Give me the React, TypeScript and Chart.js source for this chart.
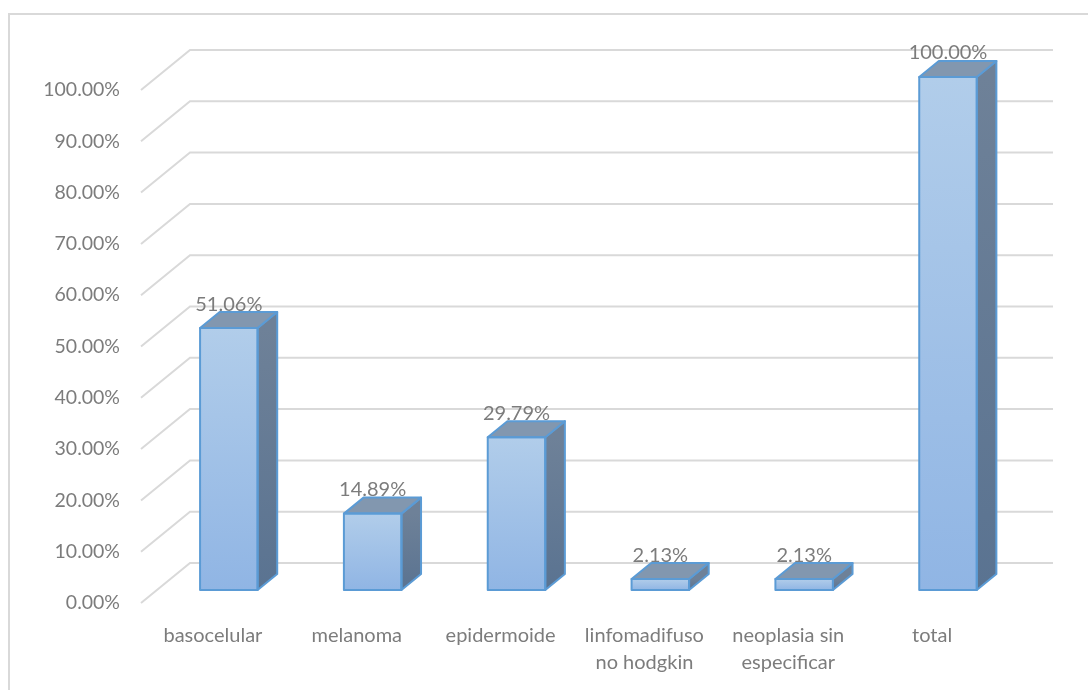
import React, { useEffect, useRef } from "react";
import { Chart, registerables } from "chart.js";

Chart.register(...registerables);

const categories: (string | string[])[] = [
  "basocelular",
  "melanoma",
  "epidermoide",
  ["linfomadifuso", "no hodgkin"],
  ["neoplasia sin", "especificar"],
  "total",
];
const percentValues = [51.06, 14.89, 29.79, 2.13, 2.13, 100];
const yTicks = [0, 10, 20, 30, 40, 50, 60, 70, 80, 90, 100];

const FONT = "Lato, 'Open Sans', 'Liberation Sans', sans-serif";
const TEXT = "#7c7c7c";
const GRID = "#d9d9d9";
const EDGE = "#5b9bd5";

// perspective of the back wall and of the bar boxes
const WALL_DX = 49;
const WALL_DY = -40;
const FRONT_T = 0.325;
const BACK_T = 0.725;

const fmt = (v: number) => v.toFixed(2) + "%";

const threeD = {
  id: "threeD",
  beforeDatasetsDraw(chart: any) {
    const { ctx, chartArea, scales } = chart;
    const y = scales.y;
    ctx.save();
    ctx.strokeStyle = GRID;
    ctx.lineWidth = 2;
    for (const t of yTicks) {
      const py = y.getPixelForValue(t);
      ctx.beginPath();
      ctx.moveTo(chartArea.left, py);
      ctx.lineTo(chartArea.left + WALL_DX, py + WALL_DY);
      ctx.lineTo(chartArea.right + WALL_DX, py + WALL_DY);
      ctx.stroke();
    }
    ctx.restore();
    // bars sit part-way into the depth of the floor
    ctx.save();
    ctx.translate(WALL_DX * FRONT_T, WALL_DY * FRONT_T);
  },
  afterDatasetsDraw(chart: any) {
    const { ctx } = chart;
    const meta = chart.getDatasetMeta(0);
    const dx = WALL_DX * (BACK_T - FRONT_T);
    const dy = WALL_DY * (BACK_T - FRONT_T);
    ctx.lineWidth = 2;
    ctx.lineJoin = "round";
    ctx.strokeStyle = EDGE;
    meta.data.forEach((bar: any) => {
      const { x, y, base, width } = bar.getProps(["x", "y", "base", "width"], true);
      const xl = x - width / 2;
      const xr = x + width / 2;
      // side face
      const g = ctx.createLinearGradient(0, y, 0, base);
      g.addColorStop(0, "#6e8198");
      g.addColorStop(1, "#5a7391");
      ctx.beginPath();
      ctx.moveTo(xr, y);
      ctx.lineTo(xr + dx, y + dy);
      ctx.lineTo(xr + dx, base + dy);
      ctx.lineTo(xr, base);
      ctx.closePath();
      ctx.fillStyle = g;
      ctx.fill();
      ctx.stroke();
      // top face
      ctx.beginPath();
      ctx.moveTo(xl, y);
      ctx.lineTo(xl + dx, y + dy);
      ctx.lineTo(xr + dx, y + dy);
      ctx.lineTo(xr, y);
      ctx.closePath();
      ctx.fillStyle = "#8297af";
      ctx.fill();
      ctx.stroke();
      // front face outline
      ctx.strokeRect(xl, y, width, base - y);
    });
    ctx.restore();

    // value labels above each box
    ctx.save();
    ctx.font = `20px ${FONT}`;
    ctx.fillStyle = TEXT;
    ctx.textAlign = "center";
    ctx.textBaseline = "middle";
    const ox = WALL_DX * FRONT_T;
    const oy = WALL_DY * FRONT_T;
    meta.data.forEach((bar: any, i: number) => {
      const { x, y } = bar.getProps(["x", "y"], true);
      ctx.fillText(fmt(percentValues[i]), x + ox, y + oy + dy - 8);
    });
    ctx.restore();
  },
};

export default function App() {
  const ref = useRef<HTMLCanvasElement>(null);

  useEffect(() => {
    const canvas = ref.current;
    if (!canvas) return;
    const chart = new Chart(canvas, {
      type: "bar",
      data: {
        labels: categories,
        datasets: [
          {
            data: percentValues,
            backgroundColor: (c: any) => {
              const ch = c.chart;
              const ys = ch.scales?.y;
              if (!ys || typeof c.raw !== "number") return "#a3c2e8";
              const top = ys.getPixelForValue(c.raw);
              const bottom = ys.getPixelForValue(0);
              if (!Number.isFinite(top) || !Number.isFinite(bottom) || top === bottom) {
                return "#a3c2e8";
              }
              const g = ch.ctx.createLinearGradient(0, top, 0, bottom);
              g.addColorStop(0, "#b1cdea");
              g.addColorStop(1, "#90b5e4");
              return g;
            },
            borderWidth: 0,
            barPercentage: 0.4,
            categoryPercentage: 1,
            clip: false as any,
          },
        ],
      },
      options: {
        animation: false,
        responsive: false,
        devicePixelRatio: 1,
        layout: { padding: { top: 90, right: 84, left: 0, bottom: 0 } },
        plugins: { legend: { display: false }, tooltip: { enabled: false } },
        scales: {
          x: {
            grid: { display: false },
            border: { display: false },
            ticks: {
              color: TEXT,
              font: { family: FONT, size: 20, lineHeight: 1.35 },
              padding: 11,
              maxRotation: 0,
              autoSkip: false,
            },
            afterFit: (s: any) => {
              s.height = 87;
            },
          },
          y: {
            min: 0,
            max: 100,
            grid: { display: false, drawTicks: false },
            border: { display: false },
            ticks: {
              stepSize: 10,
              color: TEXT,
              font: { family: FONT, size: 19.5 },
              padding: 21,
              callback: (v: any) => fmt(Number(v)),
            },
            afterFit: (s: any) => {
              s.width = 141;
            },
          },
        },
      },
      plugins: [threeD],
    });
    return () => chart.destroy();
  }, []);

  return (
    <div
      style={{
        position: "fixed",
        left: 0,
        top: 0,
        width: 1088,
        height: 690,
        overflow: "hidden",
        background: "#fff",
      }}
    >
      <div
        style={{
          position: "absolute",
          left: 8,
          top: 13,
          width: 1100,
          height: 700,
          border: "2px solid #d9d9d9",
          boxSizing: "border-box",
        }}
      />
      <canvas
        ref={ref}
        width={1088}
        height={690}
        style={{ position: "absolute", left: 0, top: 0, width: 1088, height: 690 }}
      />
    </div>
  );
}
